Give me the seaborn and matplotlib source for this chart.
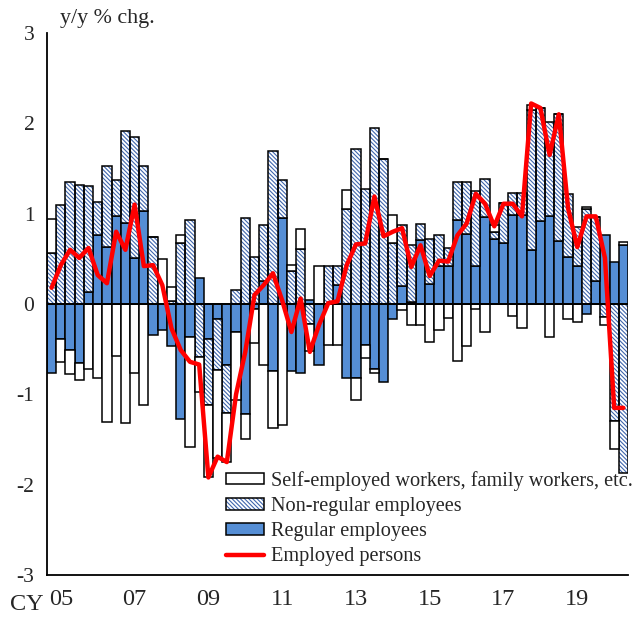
import numpy as np
import seaborn as sns
import matplotlib.pyplot as plt
from matplotlib.patches import Patch
from matplotlib.lines import Line2D
from matplotlib.legend_handler import HandlerTuple

# quarterly, CY2005 Q1 .. CY2020 Q3, y/y % chg. (contributions)
regular = [-0.76, -0.39, -0.51, -0.65, 0.13, 0.76, 0.63, 0.97, 0.90, 0.51,
           1.03, -0.34, -0.29, -0.47, -1.27, -0.37, 0.29, -0.39, -0.17, -0.67,
           -0.31, -1.22, -0.05, 0.25, -0.74, 0.95, -0.74, -0.76, 0.04, -0.67,
           0.00, 0.21, -0.82, -0.82, -0.45, -0.72, -0.86, -0.17, 0.20, 0.02,
           0.71, 0.22, 0.42, 0.42, 0.93, 0.77, 0.42, 0.96, 0.72, 0.67,
           0.99, 0.99, 0.60, 0.92, 0.97, 0.70, 0.52, 0.42, -0.11, 0.25,
           0.76, 0.46, 0.65]
non_regular = [0.57, 1.10, 1.35, 1.32, 1.18, 0.37, 0.90, 0.40, 1.02, 1.34,
               0.50, 0.74, 0.00, 0.03, 0.67, 0.93, -0.59, -0.73, -0.56, -0.54,
               0.15, 0.95, 0.52, 0.63, 1.69, 0.42, 0.37, 0.61, -0.22, 0.00,
               0.42, 0.21, 1.05, 1.72, 1.27, 1.95, 1.61, 0.68, 0.67, 0.63,
               0.18, 0.50, 0.34, 0.20, 0.42, 0.58, 0.83, 0.42, 0.08, 0.45,
               0.24, 0.24, 1.55, 1.25, 1.05, 1.40, 0.70, 0.43, 1.05, 0.71,
               -0.14, -1.30, -1.87]
self_employed = [0.37, -0.25, -0.27, -0.19, -0.72, -0.82, -1.31, -0.58, -1.32, -0.76,
                 -1.12, 0.00, 0.50, 0.16, 0.09, -1.21, -0.38, -0.80, -0.97, -0.54,
                 -0.75, -0.27, -0.38, -0.68, -0.63, -1.34, 0.06, 0.22, -0.30, 0.42,
                 -0.45, -0.45, 0.21, -0.24, -0.15, -0.04, 0.00, 0.31, -0.07, -0.23,
                 -0.23, -0.42, -0.29, -0.15, -0.63, -0.47, -0.05, -0.31, 0.08, 0.00,
                 -0.13, -0.27, 0.05, 0.00, -0.37, 0.00, -0.17, -0.20, 0.02, 0.00,
                 -0.09, -0.31, 0.04]
employed = [0.18, 0.43, 0.60, 0.51, 0.62, 0.32, 0.23, 0.80, 0.60, 1.10,
            0.42, 0.43, 0.21, -0.27, -0.51, -0.64, -0.67, -1.92, -1.69, -1.75,
            -1.00, -0.53, 0.10, 0.21, 0.34, 0.04, -0.31, 0.06, -0.53, -0.23,
            0.01, 0.03, 0.43, 0.66, 0.67, 1.19, 0.75, 0.80, 0.84, 0.41,
            0.65, 0.31, 0.48, 0.47, 0.76, 0.89, 1.22, 1.11, 0.86, 1.11,
            1.11, 0.97, 2.22, 2.17, 1.65, 2.10, 1.06, 0.63, 0.97, 0.97,
            0.51, -1.15, -1.15]
year_labels = ["05", "07", "09", "11", "13", "15", "17", "19"]
legend_labels = ["Self-employed workers, family workers, etc.",
                 "Non-regular employees", "Regular employees", "Employed persons"]

BLUE = "#558ED5"
HATCH_C = "#3F66AD"
HATCH = "\\" * 8

sns.set_style("white")
plt.rcParams["font.family"] = ["Liberation Serif", "DejaVu Serif"]
plt.rcParams["axes.unicode_minus"] = False
plt.rcParams["hatch.linewidth"] = 0.8

fig = plt.figure(figsize=(6.33, 6.17), dpi=100)
ax = fig.add_axes([47 / 633, 1 - 575 / 617, (628 - 47) / 633, (575 - 33) / 617])

x = np.arange(len(employed))
pos_base = np.zeros(len(x))
neg_base = np.zeros(len(x))


def stack(vals):
    global pos_base, neg_base
    vals = np.asarray(vals, dtype=float)
    bottom = np.where(vals >= 0, pos_base, neg_base)
    pos_base = pos_base + np.clip(vals, 0, None)
    neg_base = neg_base + np.clip(vals, None, 0)
    return vals, bottom


# regular employees
v, b = stack(regular)
ax.bar(x, v, 1.0, bottom=b, color=BLUE, edgecolor="black", linewidth=1.1, zorder=2)

# non-regular employees (hatch first, black outline on top)
v, b = stack(non_regular)
ax.bar(x, v, 1.0, bottom=b, color="white", edgecolor=HATCH_C, hatch=HATCH,
       linewidth=0, zorder=2)
ax.bar(x, v, 1.0, bottom=b, fill=False, edgecolor="black", linewidth=1.1, zorder=2)

# self-employed etc.
v, b = stack(self_employed)
ax.bar(x, v, 1.0, bottom=b, color="white", edgecolor="black", linewidth=1.1, zorder=2)

ax.axhline(0, color="black", linewidth=1.4, zorder=3)

sns.lineplot(x=x, y=employed, color="red", linewidth=3.2, ax=ax, zorder=5)

ax.set_xlim(-0.5, len(x) - 0.5)
ax.set_ylim(-3, 3)
ax.set_xlabel("")
ax.set_ylabel("")
for s in ["top", "right"]:
    ax.spines[s].set_visible(False)
for s in ["left", "bottom"]:
    ax.spines[s].set_color("black")
    ax.spines[s].set_linewidth(1.3)

ax.set_yticks(range(-3, 4))
ax.tick_params(axis="y", direction="out", length=6, width=1.2, labelsize=15.5, pad=3)

ax.set_xticks(np.arange(1, len(x), 8))
ax.set_xticklabels(year_labels)
ax.set_xticks(np.arange(-0.5, len(x), 4), minor=True)
ax.tick_params(axis="x", which="major", length=0, labelsize=17.5, pad=10)
ax.tick_params(axis="x", which="minor", direction="in", length=6, width=1.2)

fig.text(10 / 633, 1 - 604 / 617, "CY", fontsize=17.5, va="center", ha="left")
fig.text(60 / 633, 1 - 18 / 617, "y/y % chg.", fontsize=15.8, va="center", ha="left")

handles = [
    Patch(facecolor="white", edgecolor="black", linewidth=1.1),
    (Patch(facecolor="white", edgecolor=HATCH_C, hatch=HATCH, linewidth=0),
     Patch(fill=False, edgecolor="black", linewidth=1.1)),
    Patch(facecolor=BLUE, edgecolor="black", linewidth=1.1),
    Line2D([], [], color="red", linewidth=3.2),
]
fig.legend(handles, legend_labels, loc="upper left",
           bbox_to_anchor=(226 / 633, 1 - 471 / 617), frameon=False,
           fontsize=14.6, handlelength=1.85, handleheight=0.5,
           handletextpad=0.35, labelspacing=0.3, borderpad=0, borderaxespad=0,
           handler_map={tuple: HandlerTuple(ndivide=1, pad=0)})

fig.savefig("out.png", dpi=100)
